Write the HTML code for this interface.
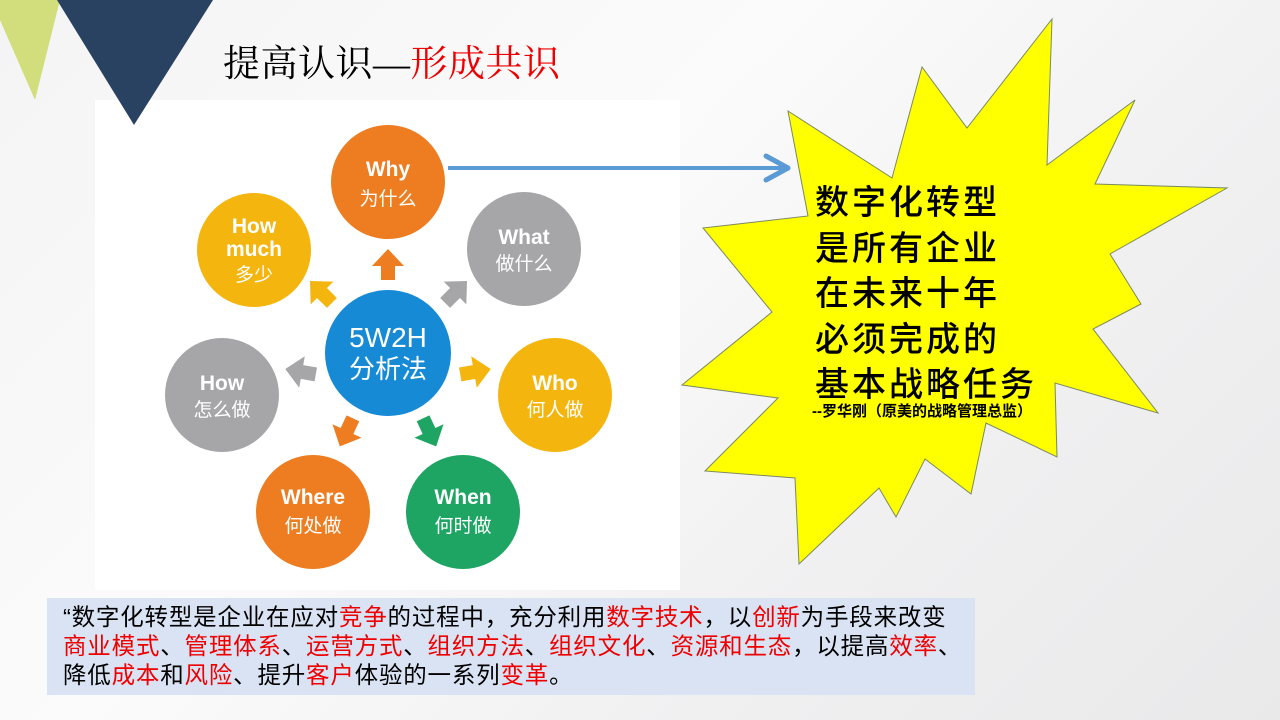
<!DOCTYPE html>
<html><head><meta charset="utf-8"><style>
body{margin:0;width:1280px;height:720px;overflow:hidden;position:relative;background:linear-gradient(135deg,#f4f4f5 0%,#fbfbfb 40%,#f0f0f1 70%,#e9e9ea 100%);font-family:"Liberation Sans","Noto Sans CJK SC",sans-serif}
.abs{position:absolute}
.title{left:223px;top:33px;font-size:37px;font-family:"Liberation Serif","Noto Serif CJK SC",serif;color:#000;letter-spacing:0.5px}
.r{color:#e00}
.box{left:47px;top:598px;width:928px;height:97px;background:#dae3f3;box-sizing:border-box;padding:5px 0 0 16px;font-size:23.5px;line-height:29px;color:#000;white-space:nowrap;letter-spacing:0.8px}
.burst{left:815px;top:181px;font-size:34px;line-height:45.5px;font-weight:500;color:#000;letter-spacing:3px}
.sig{left:812px;top:400px;font-size:15px;font-weight:bold}
</style></head><body>
<svg class="abs" style="left:0;top:0" width="1280" height="720">
<rect x="95" y="100" width="585" height="490" fill="#fff"/>
<polygon points="0,0 60,0 35,100 0,20" fill="#d2dd7c"/>
<polygon points="57,0 213,0 134,125" fill="#2a4262"/>
<polygon points="1052,19 1047,165 1135,100 1095,184 1227,188 1110,254 1141,304 1093,329 1158,413 1055,383 1057,457 986,423 971,494 925,459 896,517 879,488 799,564 795,478 705,471 778,398 682,385 772,312 703,228 808,216 788,111 892,178 922,67 967,128" fill="#ffff00" stroke="#7a8a60" stroke-width="1"/>
<line x1="448" y1="168" x2="786" y2="168" stroke="#5b9bd5" stroke-width="4"/>
<polyline points="766,156 788,168 766,180" fill="none" stroke="#5b9bd5" stroke-width="5" stroke-linecap="round" stroke-linejoin="round"/>
<g font-family="Liberation Sans,Noto Sans CJK SC,sans-serif" fill="#fff" text-anchor="middle" font-weight="bold">
<circle cx="388" cy="182" r="57" fill="#ee7d22"/>
<text x="388" y="176" font-size="21">Why</text><text x="388" y="205" font-size="19" font-weight="normal">为什么</text>
<circle cx="254" cy="250" r="57" fill="#f5b50f"/>
<text x="254" y="233" font-size="21">How</text><text x="254" y="256" font-size="21">much</text><text x="254" y="281" font-size="19" font-weight="normal">多少</text>
<circle cx="524" cy="249" r="57" fill="#a6a6a8"/>
<text x="524" y="244" font-size="21">What</text><text x="524" y="270" font-size="19" font-weight="normal">做什么</text>
<circle cx="222" cy="395" r="57" fill="#a6a6a8"/>
<text x="222" y="390" font-size="21">How</text><text x="222" y="416" font-size="19" font-weight="normal">怎么做</text>
<circle cx="555" cy="395" r="57" fill="#f5b50f"/>
<text x="555" y="390" font-size="21">Who</text><text x="555" y="416" font-size="19" font-weight="normal">何人做</text>
<circle cx="313" cy="512" r="57" fill="#ee7d22"/>
<text x="313" y="504" font-size="21">Where</text><text x="313" y="532" font-size="19" font-weight="normal">何处做</text>
<circle cx="463" cy="512" r="57" fill="#1ea463"/>
<text x="463" y="504" font-size="21">When</text><text x="463" y="532" font-size="19" font-weight="normal">何时做</text>
<circle cx="388" cy="353" r="63" fill="#168ad5"/>
<text x="388" y="347" font-size="28" font-weight="normal">5W2H</text><text x="388" y="378" font-size="26" font-weight="normal">分析法</text>
</g>
<g>
<polygon points="0,-17 16,0 7,0 7,14 -7,14 -7,0 -16,0" fill="#ee7d22" transform="translate(388,266)"/>
<polygon points="0,-17 16,0 7,0 7,14 -7,14 -7,0 -16,0" fill="#f5b50f" transform="translate(322,293) rotate(-45)"/>
<polygon points="0,-17 16,0 7,0 7,14 -7,14 -7,0 -16,0" fill="#a6a6a8" transform="translate(455,293) rotate(45)"/>
<polygon points="0,-17 16,0 7,0 7,14 -7,14 -7,0 -16,0" fill="#a6a6a8" transform="translate(302,372) rotate(-80)"/>
<polygon points="0,-17 16,0 7,0 7,14 -7,14 -7,0 -16,0" fill="#f5b50f" transform="translate(474,372) rotate(80)"/>
<polygon points="0,-17 16,0 7,0 7,14 -7,14 -7,0 -16,0" fill="#ee7d22" transform="translate(347,431) rotate(-155)"/>
<polygon points="0,-17 16,0 7,0 7,14 -7,14 -7,0 -16,0" fill="#1ea463" transform="translate(429,431) rotate(155)"/>
</g>
</svg>
<div class="abs title">提高认识—<span class="r">形成共识</span></div>
<div class="abs burst">数字化转型<br>是所有企业<br>在未来十年<br>必须完成的<br>基本战略任务</div>
<div class="abs sig">--罗华刚（原美的战略管理总监）</div>
<div class="abs box">“数字化转型是企业在应对<span class="r">竞争</span>的过程中，充分利用<span class="r">数字技术</span>，以<span class="r">创新</span>为手段来改变<br><span class="r">商业模式</span>、<span class="r">管理体系</span>、<span class="r">运营方式</span>、<span class="r">组织方法</span>、<span class="r">组织文化</span>、<span class="r">资源和生态</span>，以提高<span class="r">效率</span>、<br>降低<span class="r">成本</span>和<span class="r">风险</span>、提升<span class="r">客户</span>体验的一系列<span class="r">变革</span>。</div>
</body></html>
